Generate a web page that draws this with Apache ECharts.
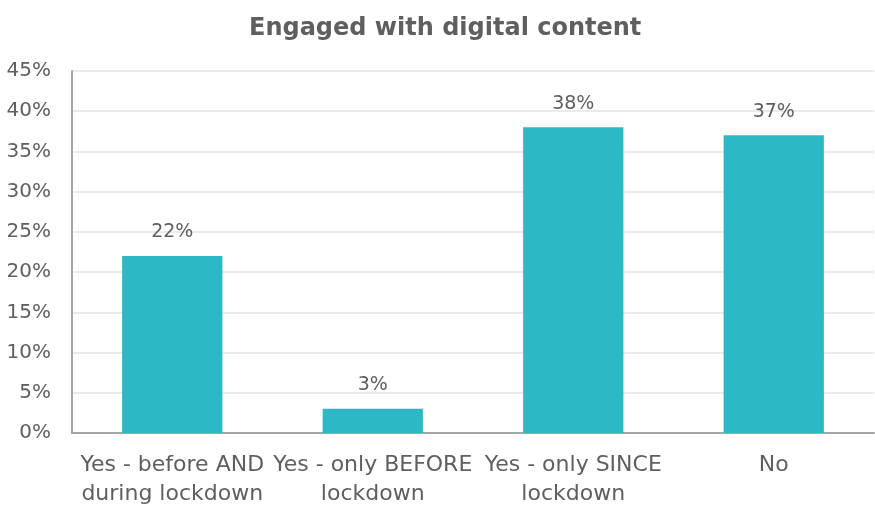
<!DOCTYPE html>
<html>
<head>
<meta charset="utf-8">
<script src="https://cdn.jsdelivr.net/npm/echarts@6/dist/echarts.min.js"></script>
<style>
  html, body { margin: 0; padding: 0; background: #fff; }
  #chart { width: 875px; height: 507px; }
</style>
</head>
<body>
<div id="chart"></div>
<script>
// Survey responses: engagement with digital content around lockdown
const titleText = 'Engaged with digital content';
const categories = [
  'Yes - before AND\nduring lockdown',
  'Yes - only BEFORE\nlockdown',
  'Yes - only SINCE\nlockdown',
  'No'
];
const percentValues = [22, 3, 38, 37];
const yTicks = [0, 5, 10, 15, 20, 25, 30, 35, 40, 45];

const FONT = 'DejaVu Sans';
const TEXT = '#5f5f5f';

const chart = echarts.init(document.getElementById('chart'), null, { renderer: 'canvas' });
chart.setOption({
  animation: false,
  title: {
    text: titleText,
    left: 244,
    top: 12,
    textStyle: { fontFamily: FONT, fontSize: 24, fontWeight: 'bold', color: TEXT }
  },
  grid: {
    left: 72, right: 1, top: 71, bottom: 74,
    containLabel: false,
    outerBoundsMode: 'none'
  },
  xAxis: {
    type: 'category',
    data: categories,
    axisTick: { show: false },
    axisLine: { lineStyle: { color: '#a6a6a6', width: 2 } },
    axisLabel: {
      interval: 0,
      margin: 18,
      fontFamily: FONT, fontSize: 22, color: TEXT, lineHeight: 29
    }
  },
  yAxis: {
    type: 'value',
    min: yTicks[0],
    max: yTicks[yTicks.length - 1],
    interval: yTicks[1] - yTicks[0],
    axisLine: { show: true, lineStyle: { color: '#a6a6a6', width: 2 } },
    axisTick: { show: false },
    splitLine: { lineStyle: { color: '#ebebeb', width: 2 } },
    axisLabel: {
      margin: 21,
      fontFamily: FONT, fontSize: 20, color: TEXT,
      formatter: v => v + '%'
    }
  },
  series: [{
    type: 'bar',
    data: percentValues,
    barWidth: '50%',
    itemStyle: { color: '#2cb8c5' },
    label: {
      show: true,
      position: 'top',
      distance: 14,
      fontFamily: FONT, fontSize: 19, color: TEXT,
      formatter: p => p.value + '%'
    }
  }]
});
</script>
</body>
</html>
